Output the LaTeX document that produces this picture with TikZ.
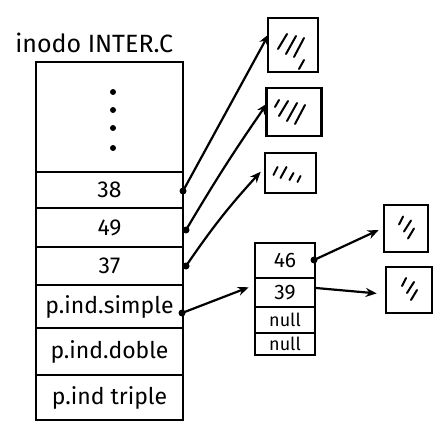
\documentclass[tikz,border=0pt]{standalone}
\usepackage{fontspec}
\setmainfont{Fira Sans}
\usetikzlibrary{arrows.meta,calc}
\begin{document}
\begin{tikzpicture}[x=1pt,y=-1pt, line width=2.6pt,
  cell/.style={draw, minimum width=147pt, inner sep=0pt, font=\fontsize{23}{25}\selectfont},
  icell/.style={draw, minimum width=60pt, inner sep=0pt},
  blk/.style={draw, inner sep=0pt},
  ptr/.style={-{Stealth[length=11pt,width=9pt]}, line width=2.2pt},
  dotn/.style={circle, fill, inner sep=0pt, minimum size=7pt},
  hatch/.style={line width=2pt, line cap=round}]
\useasboundingbox (0,0) rectangle (443,427);

% title
\node[font=\fontsize{25}{27}\selectfont, anchor=west, inner sep=0pt] (title) at (14,43) {inodo INTER.C};

% main inode column
\node[cell, minimum height=110pt] (top) at (109.5,117) {};
\node[cell, minimum height=36pt] (r38) at (109.5,190) {38};
\node[cell, minimum height=39pt] (r49) at (109.5,227.5) {49};
\node[cell, minimum height=38pt] (r37) at (109.5,266) {37};
\node[cell, minimum height=43pt] (simple) at (109.5,306.5) {p.ind.simple};
\node[cell, minimum height=47pt] (doble) at (109.5,351.5) {p.ind.doble};
\node[cell, minimum height=45pt] (triple) at (109.5,397.5) {p.ind triple};

% vertical dots
\foreach \yy/\nm in {92/da,110/db,128/dc,148/dd}
  \node[circle, fill, inner sep=0pt, minimum size=6pt] (\nm) at (113,\yy) {};

% data blocks (upper)
\node[blk, minimum width=50pt, minimum height=54pt] (b1) at (293,45) {};
\node[blk, minimum width=55pt, minimum height=48pt] (b2) at (294,112) {};
\node[blk, minimum width=51pt, minimum height=40pt] (b3) at (290.5,173) {};

% indirect block
\node[icell, minimum height=35pt, font=\fontsize{21}{23}\selectfont] (i46) at (285,260.5) {46};
\node[icell, minimum height=29pt, font=\fontsize{21}{23}\selectfont] (i39) at (285,292.5) {39};
\node[icell, minimum height=26pt, font=\fontsize{18}{20}\selectfont] (in1) at (285,320) {null};
\node[icell, minimum height=22pt, font=\fontsize{18}{20}\selectfont] (in2) at (285,344) {null};

% data blocks (right)
\node[blk, minimum width=44pt, minimum height=47pt] (b4) at (406,228.5) {};
\node[blk, minimum width=46pt, minimum height=46pt] (b5) at (409,290) {};

% hatching
\foreach \b in {b1,b2}{
  \draw[hatch] ($(\b.center)+(-15,4)$) -- ++(9,-15);
  \draw[hatch] ($(\b.center)+(-7,9)$) -- ++(10,-18);
  \draw[hatch] ($(\b.center)+(1,12)$) -- ++(10,-19);
}
\draw[hatch] ($(b1.center)+(6,24)$) -- ++(5,-9);
\draw[hatch] ($(b2.center)+(-19,-5)$) -- ++(4,-7);
\draw[hatch] ($(b3.center)+(-17,2)$) -- ++(4,-8);
\draw[hatch] ($(b3.center)+(-10,5)$) -- ++(6,-11);
\draw[hatch] ($(b3.center)+(-1,7)$) -- ++(4,-7);
\draw[hatch] ($(b3.center)+(7,9)$) -- ++(3,-6);
\foreach \b in {b4,b5}{
  \draw[hatch] ($(\b.center)+(-7,-4)$) -- ++(4,-8);
  \draw[hatch] ($(\b.center)+(-2,3)$) -- ++(7,-11);
  \draw[hatch] ($(\b.center)+(2,10)$) -- ++(6,-10);
}

% pointer origins
\node[dotn] (p38) at (183,191) {};
\node[dotn] (p49) at (186,230) {};
\node[dotn] (p37) at (186,266) {};
\node[dotn] (psim) at (182,313) {};
\node[dotn] (p46) at (314,260) {};
\coordinate (p39) at (316,288);

% pointer targets
\coordinate (t1) at ($(b1.north west)!0.31!(b1.south west)+(2,0)$);
\coordinate (t2) at ($(b2.north west)!0.33!(b2.south west)+(2,0)$);
\coordinate (t3) at ($(b3.north west)!0.47!(b3.south west)+(-3,0)$);
\coordinate (ti) at ($(i46.south west)+(-5,8)$);
\coordinate (t4) at ($(b4.north west)!0.53!(b4.south west)+(-4,0)$);
\coordinate (t5) at ($(b5.north west)!0.57!(b5.south west)+(-8,0)$);

% pointers
\draw[ptr] (p38.center) -- (t1);
\draw[ptr] (p49.center) to[bend left=2] (t2);
\draw[ptr] (p37.center) to[bend left=4] (t3);
\draw[ptr] (psim.center) -- (ti);
\draw[ptr] (p46.center) -- (t4);
\draw[ptr] (p39) -- (t5);
\end{tikzpicture}
\end{document}
